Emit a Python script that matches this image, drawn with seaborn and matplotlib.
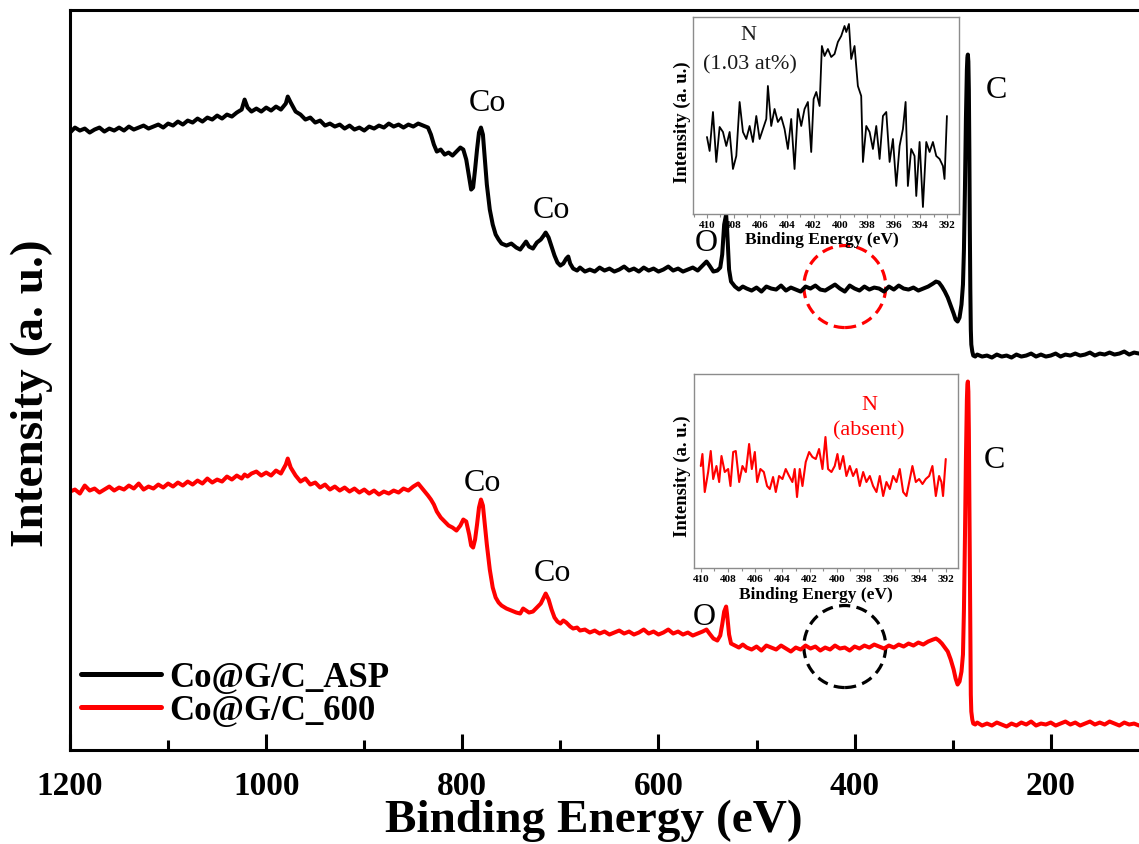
import matplotlib
matplotlib.use("Agg")
import matplotlib.pyplot as plt
from matplotlib.patches import Ellipse
from matplotlib.ticker import MultipleLocator
import pandas as pd
import seaborn as sns

sns.set_style("ticks")
plt.rcParams['font.family'] = ['Liberation Serif', 'DejaVu Serif']
plt.rcParams['font.weight'] = 'bold'
plt.rcParams['axes.labelweight'] = 'bold'
for key in ['text.color', 'axes.labelcolor', 'xtick.color', 'ytick.color', 'axes.edgecolor']:
    plt.rcParams[key] = 'black'

# XPS survey spectra (binding energy in eV, intensity in a.u.)
energy = [
    1200, 1195, 1190, 1185, 1180, 1175, 1170, 1165, 1160, 1155, 1150, 1145,
    1140, 1135, 1130, 1125, 1120, 1115, 1110, 1105, 1100, 1095, 1090, 1085,
    1080, 1075, 1070, 1065, 1060, 1055, 1050, 1045, 1040, 1035, 1030, 1025,
    1022, 1019, 1015, 1010, 1005, 1000, 995, 990, 985, 980, 978, 975,
    970, 965, 960, 955, 950, 945, 940, 935, 930, 925, 920, 915, 910, 905,
    900, 895, 890, 885, 880, 875, 870, 865, 860, 855, 850, 845, 840, 835,
    832, 829, 826, 822, 818, 814, 810, 806, 802, 799, 796, 793, 791, 789,
    787, 785, 783, 781, 779, 777, 775, 772, 769, 766, 763, 760, 755, 750,
    745, 741, 738, 735, 732, 728, 724, 720, 717, 715, 712, 709, 706, 703,
    700, 697, 694, 692, 690, 687, 683, 680,
    675, 670, 665, 660, 655, 650, 645, 640, 635, 630, 625, 620, 615, 610,
    605, 600, 595, 590, 585, 580, 575, 570, 565, 560, 555,
    551, 548, 544, 540, 537, 535, 533, 531, 530, 528, 526, 522, 518, 514, 510,
    505, 500, 495, 490, 485, 480, 475, 470, 465, 460, 455, 450, 445, 440,
    435, 430, 425, 420, 415, 410, 405, 400, 395, 390, 385, 380, 375, 370,
    365, 360, 355, 350, 345, 340, 335, 330, 325,
    320, 317, 314, 311, 308, 305, 302, 299, 297, 295, 293, 291, 289.5, 288.5,
    287.5, 286.5, 285.5, 285, 284.5, 284, 283.5, 283, 282.5, 282, 281.5, 281,
    280, 279, 277, 275,
    270, 265, 260, 255, 250, 245, 240, 235, 230, 225, 220, 215, 210, 205,
    200, 195, 190, 185, 180, 175, 170, 165, 160, 155, 150, 145, 140, 135,
    130, 125, 120, 115, 110,
]

asp = [
    617, 622, 619, 621, 617, 620, 622, 618, 621, 619, 622, 619,
    623, 620, 622, 624, 621, 623, 625, 622, 626, 624, 628, 625,
    629, 627, 631, 628, 632, 630, 634, 631, 635, 633, 637, 640,
    650, 642, 638, 641, 638, 642, 639, 643, 640, 646, 653, 647,
    638, 635, 630, 632, 627, 629, 624, 626, 623, 625, 621, 624, 620, 622,
    619, 623, 621, 624, 622, 626, 623, 625, 622, 625, 623, 626, 624, 622,
    615, 605, 598, 600, 595, 597, 594, 598, 602, 600, 590, 572, 560, 562,
    580, 600, 617, 622, 615, 590, 565, 540, 525, 515, 510, 506, 504, 506,
    502, 500, 504, 508, 503, 501, 507, 510, 514, 517, 512, 503, 494, 487,
    484, 486, 491, 493, 486, 481, 479, 482,
    478, 480, 478, 482, 479, 481, 478, 480, 483, 479, 481, 478, 482, 479,
    481, 478, 480, 483, 479, 481, 478, 480, 482, 479, 484,
    488, 484, 478, 479, 482, 495, 525, 535, 520, 480, 468, 463, 460, 463, 461,
    459, 462, 458, 463, 461, 460, 464, 459, 462, 460, 458, 463, 461, 464,
    460, 459, 462, 465, 461, 458, 464, 461, 459, 463, 460, 462, 461, 458,
    463, 460, 464, 461, 460, 462, 459, 461, 463,
    466, 468, 467, 463, 458, 452, 444, 436, 430, 428, 432, 445, 465, 500,
    560, 630, 680, 692, 695, 688, 660, 600, 520, 460, 420, 405,
    398, 394, 393, 395,
    393, 394, 392, 395, 393, 394, 392, 395, 393, 394, 396, 393, 395, 393,
    394, 396, 393, 395, 394, 396, 394, 395, 397, 394, 396, 395, 397, 395,
    396, 398, 395, 397, 396,
]

c600 = [
    258, 260, 256, 264, 259, 261, 257, 260, 263, 259, 262, 260,
    264, 261, 266, 260, 263, 261, 265, 262, 266, 263, 267, 264,
    268, 265, 269, 266, 271, 267, 270, 268, 273, 270, 274, 271,
    275, 273, 276, 278, 274, 277, 274, 279, 276, 285, 291, 282,
    274, 268, 271, 265, 267, 262, 265, 260, 263, 259, 262, 258, 261, 257,
    260, 256, 259, 255, 258, 256, 259, 257, 261, 259, 263, 266, 260, 254,
    250, 245, 238, 232, 228, 224, 222, 219, 224, 230, 228, 215, 204, 202,
    210, 225, 242, 250, 244, 225, 205, 180, 162, 152, 147, 144, 141, 139,
    137, 136, 141, 139, 137, 138, 142, 146, 152, 156, 150, 140, 132, 128,
    126, 129, 127, 125, 123, 121, 122, 119,
    120, 117, 119, 116, 118, 115, 117, 119, 116, 118, 115, 117, 120, 116,
    118, 115, 117, 120, 116, 118, 115, 117, 114, 116, 118,
    120, 116, 111, 109, 114, 125, 138, 143, 135, 115, 106, 104, 102, 105, 102,
    100, 103, 99, 104, 102, 100, 104, 101, 98, 102, 100, 104, 101, 103,
    99, 102, 100, 104, 101, 102, 99, 103, 101, 104, 102, 105, 103, 101,
    104, 102, 105, 103, 106, 104, 107, 105, 108,
    110, 111, 109, 106, 102, 98, 90, 80, 71, 65, 68, 78, 95, 140,
    210, 290, 350, 365, 368, 358, 320, 250, 170, 100, 55, 38,
    30, 26, 25, 27,
    24, 26, 24, 27, 25, 23, 26, 24, 27, 25, 28, 24, 26, 25,
    27, 24, 26, 28, 25, 27, 24, 26, 28, 25, 27, 25, 28, 26,
    24, 27, 25, 26, 24,
]

samples = ['Co@G/C_ASP', 'Co@G/C_600']
colors = {'Co@G/C_ASP': 'black', 'Co@G/C_600': 'red'}

# N 1s high-resolution insets
n1s_asp_e = [
    410.0, 409.8, 409.55, 409.3, 409.05, 408.8, 408.55, 408.3, 408.05, 407.8,
    407.55, 407.3, 407.05, 406.8, 406.55, 406.3, 406.05, 405.8, 405.55, 405.43,
    405.18, 404.93, 404.68, 404.43, 404.18, 403.93, 403.68, 403.43, 403.18, 402.93,
    402.68, 402.43, 402.18, 402.0, 401.8, 401.55, 401.38, 401.18, 400.93, 400.68,
    400.43, 400.18, 399.93, 399.68, 399.55, 399.35, 399.18, 398.93, 398.68, 398.43,
    398.3, 398.05, 397.8, 397.55, 397.3, 397.05, 396.8, 396.55, 396.3, 396.05,
    395.8, 395.55, 395.3, 395.1, 394.93, 394.68, 394.43, 394.3, 394.05, 393.8,
    393.55, 393.3, 393.05, 392.8, 392.55, 392.3, 392.18, 392.0,
]
n1s_asp_i = [
    77, 63, 102, 52, 87, 82, 68, 82, 45, 58,
    112, 82, 75, 88, 72, 98, 75, 85, 95, 128,
    88, 105, 92, 97, 85, 65, 95, 45, 105, 88,
    105, 112, 62, 115, 122, 108, 168, 158, 165, 157,
    160, 172, 178, 188, 182, 190, 155, 168, 128, 118,
    52, 88, 82, 65, 88, 55, 98, 102, 52, 75,
    28, 68, 85, 112, 28, 65, 58, 18, 72, 7,
    72, 62, 72, 58, 55, 48, 35, 98,
]
n1s_600_e = [
    410.0, 409.88, 409.71, 409.46, 409.27, 409.09, 408.85, 408.65, 408.48, 408.24,
    407.99, 407.82, 407.62, 407.43, 407.18, 406.94, 406.69, 406.45, 406.25, 406.03,
    405.86, 405.62, 405.37, 405.13, 404.93, 404.69, 404.49, 404.25, 404.0, 403.76,
    403.51, 403.27, 403.1, 402.93, 402.73, 402.53, 402.29, 402.04, 401.8, 401.55,
    401.31, 401.06, 400.84, 400.65, 400.4, 400.16, 399.96, 399.79, 399.54, 399.3,
    399.05, 398.81, 398.56, 398.32, 398.07, 397.83, 397.58, 397.34, 397.09, 396.85,
    396.6, 396.36, 396.11, 395.87, 395.62, 395.38, 395.13, 394.89, 394.64, 394.45,
    394.2, 393.96, 393.71, 393.47, 393.22, 392.98, 392.73, 392.49, 392.32, 392.2,
    392.0,
]
n1s_600_i = [
    102, 114, 76, 96, 117, 89, 102, 86, 112, 96,
    99, 82, 116, 117, 86, 102, 96, 124, 99, 116,
    86, 99, 96, 82, 79, 91, 76, 92, 89, 99,
    92, 86, 99, 71, 99, 82, 106, 116, 111, 109,
    119, 99, 131, 99, 96, 102, 114, 99, 112, 92,
    102, 92, 99, 82, 96, 86, 92, 82, 76, 92,
    72, 86, 79, 92, 86, 99, 76, 72, 89, 102,
    86, 89, 84, 89, 92, 102, 72, 92, 86, 72,
    109,
]

survey = pd.DataFrame({
    'energy': energy + energy,
    'intensity': asp + c600,
    'sample': [samples[0]] * len(energy) + [samples[1]] * len(energy),
})

fig = plt.figure(figsize=(11.39, 8.45), dpi=100)
ax = fig.add_axes([0.0615, 0.1118, 0.9385, 0.8757])
sns.lineplot(data=survey, x='energy', y='intensity', hue='sample', palette=colors,
             lw=2.9, sort=False, estimator=None, ax=ax)

ax.set_xlim(1200, 110)
ax.set_ylim(0, 740)
ax.xaxis.set_major_locator(MultipleLocator(200))
ax.xaxis.set_minor_locator(MultipleLocator(100))
ax.set_yticks([])
ax.tick_params(axis='x', which='major', direction='in', length=11.5, width=2.2,
               labelsize=24, pad=15, top=False)
ax.tick_params(axis='x', which='minor', direction='in', length=7, width=2.2, top=False)
for side in ['left', 'bottom', 'top']:
    ax.spines[side].set_linewidth(2.2)
ax.spines['right'].set_visible(False)

ax.set_xlabel('Binding Energy (eV)', fontsize=34)
ax.set_ylabel('Intensity (a. u.)', fontsize=34)
ax.xaxis.set_label_coords(0.49, -0.066)
ax.yaxis.set_label_coords(-0.016, 0.483)

handles, labels = ax.get_legend_handles_labels()
leg = ax.legend(handles, labels, loc='lower left', bbox_to_anchor=(0.0103, 0.03),
                frameon=False, fontsize=25, handlelength=2.3, handletextpad=0.25,
                labelspacing=0.0, borderaxespad=0, borderpad=0)
for line in leg.get_lines():
    line.set_linewidth(3.6)

# peak labels
peak_labels = [
    (774, 647, 'Co'), (709, 540, 'Co'), (551, 507, 'O'), (255, 660, 'C'),
    (779, 267, 'Co'), (708, 177, 'Co'), (553, 133, 'O'), (257, 290, 'C'),
]
for x, y, s in peak_labels:
    ax.text(x, y, s, fontsize=23, fontweight='normal', ha='center', va='center')

# dashed circles marking the N 1s region
ax.add_patch(Ellipse((410, 463), width=83.5, height=82, fill=False, ec='red',
                     lw=2.3, ls=(0, (3.5, 2))))
ax.add_patch(Ellipse((410, 103), width=83.5, height=82, fill=False, ec='black',
                     lw=2.3, ls=(0, (3.5, 2))))


def style_inset(ins, xlim, ylim, xlab_pos, ylab_pos):
    ins.set_xlim(*xlim)
    ins.set_ylim(*ylim)
    ins.xaxis.set_major_locator(MultipleLocator(2))
    ins.xaxis.set_minor_locator(MultipleLocator(1))
    ins.set_yticks([])
    ins.tick_params(axis='x', which='major', direction='out', length=3, width=0.8,
                    color='#8c8c8c', labelsize=8, pad=1)
    ins.tick_params(axis='x', which='minor', direction='out', length=2, width=0.8,
                    color='#8c8c8c')
    for sp in ins.spines.values():
        sp.set_color('#8c8c8c')
        sp.set_linewidth(1)
    ins.set_xlabel('Binding Energy (eV)', fontsize=12.5)
    ins.set_ylabel('Intensity (a. u.)', fontsize=13.4)
    ins.xaxis.set_label_coords(*xlab_pos)
    ins.yaxis.set_label_coords(*ylab_pos)


ins1 = fig.add_axes([0.6084, 0.7456, 0.2335, 0.2331])
sns.lineplot(x=n1s_asp_e, y=n1s_asp_i, color='black', lw=1.3, sort=False,
             estimator=None, ax=ins1)
style_inset(ins1, (411.05, 391.1), (0, 197), (0.485, -0.085), (-0.006, 0.47))
ins1.text(0.207, 0.91, 'N', transform=ins1.transAxes, ha='center', va='center',
          fontsize=16, fontweight='normal', color='#1a1a1a')
ins1.text(0.214, 0.762, '(1.03 at%)', transform=ins1.transAxes, ha='center',
          va='center', fontsize=16, fontweight='normal', color='#1a1a1a')

ins2 = fig.add_axes([0.6093, 0.3266, 0.2318, 0.2296])
sns.lineplot(x=n1s_600_e, y=n1s_600_i, color='red', lw=1.5, sort=False,
             estimator=None, ax=ins2)
style_inset(ins2, (410.5, 391.1), (0, 194), (0.462, -0.093), (-0.011, 0.48))
ins2.text(0.663, 0.845, 'N', transform=ins2.transAxes, ha='center', va='center',
          fontsize=16, fontweight='normal', color='red')
ins2.text(0.663, 0.712, '(absent)', transform=ins2.transAxes, ha='center',
          va='center', fontsize=16, fontweight='normal', color='red')

fig.savefig('out.png', dpi=100)
